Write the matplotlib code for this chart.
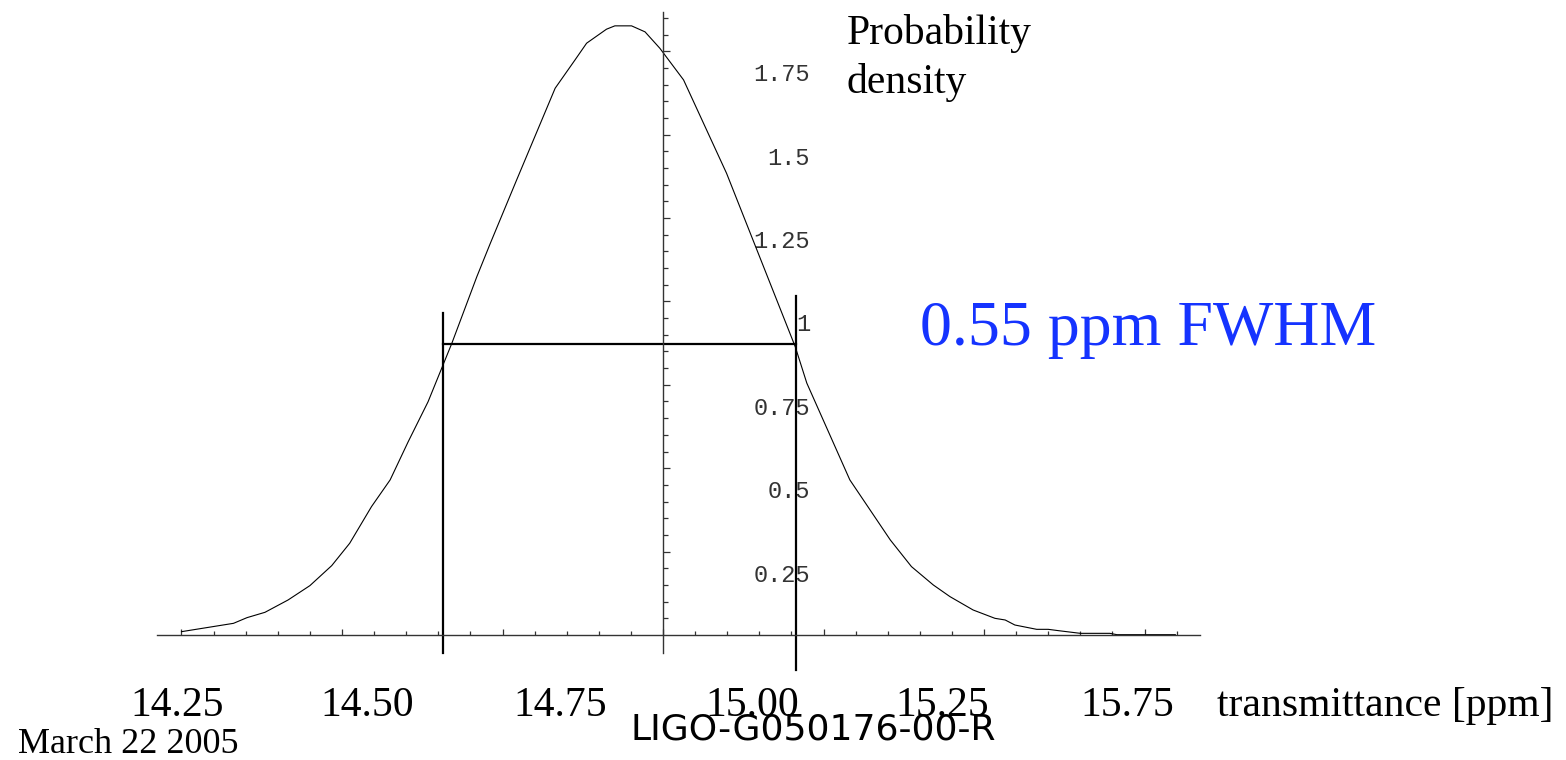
import numpy as np
import matplotlib
matplotlib.use("Agg")
import matplotlib.pyplot as plt
import matplotlib.transforms as mtransforms

# probability density curve
trans = [14.250, 14.331, 14.352, 14.380, 14.416, 14.450, 14.484, 14.512, 14.546, 14.575,
         14.603, 14.634, 14.671, 14.710, 14.731, 14.772, 14.832, 14.863, 14.881, 14.912,
         14.925, 14.951, 14.972, 14.995, 15.032, 15.099, 15.206, 15.224, 15.291, 15.354,
         15.387, 15.421, 15.447, 15.483, 15.517, 15.533, 15.548, 15.582, 15.600, 15.616,
         15.650, 15.696, 15.707, 15.798]
dens = [0.010, 0.035, 0.052, 0.068, 0.105, 0.148, 0.208, 0.275, 0.385, 0.465,
        0.579, 0.699, 0.874, 1.074, 1.174, 1.364, 1.639, 1.724, 1.774, 1.816,
        1.826, 1.826, 1.808, 1.759, 1.664, 1.384, 0.864, 0.755, 0.465, 0.285,
        0.205, 0.150, 0.115, 0.075, 0.050, 0.045, 0.030, 0.017, 0.017, 0.013,
        0.005, 0.005, 0.001, 0.001]

# FWHM markers
fwhm_lo = 14.657
fwhm_hi = 15.207
half_level = 0.871
lo_bar = (-0.054, 0.966)
hi_bar = (-0.105, 1.016)

# axes
x_origin = 15.0
x_major = [14.25, 14.50, 14.75, 15.00, 15.25, 15.50, 15.75]
y_major = [0.25, 0.5, 0.75, 1.0, 1.25, 1.5, 1.75]
y_labels = ["0.25", "0.5", "0.75", "1", "1.25", "1.5", "1.75"]

# labels typed on the slide below the axis
x_text = ["14.25", "14.50", "14.75", "15.00", "15.25", "15.75"]
x_text_px = [177, 367, 560, 752, 942, 1127]

W, H = 1566, 760
fig = plt.figure(figsize=(W / 100, H / 100), dpi=100)
ax = fig.add_axes([0, 0, 1, 1])
ax.set_xlim(13.9673, 16.4065)
ax.set_ylim(-0.3747, 1.9035)

ax.plot(trans, dens, color="black", lw=0.8)

ax.plot([fwhm_lo, fwhm_lo], lo_bar, color="black", lw=1.6)
ax.plot([fwhm_hi, fwhm_hi], hi_bar, color="black", lw=1.6)
ax.plot([fwhm_lo, fwhm_hi], [half_level, half_level], color="black", lw=1.6)

for s in ["top", "right"]:
    ax.spines[s].set_visible(False)
ax.spines["bottom"].set_position(("data", 0))
ax.spines["bottom"].set_bounds(14.212, 15.836)
ax.spines["left"].set_position(("data", x_origin))
ax.spines["left"].set_bounds(-0.054, 1.869)
for s in ["bottom", "left"]:
    ax.spines[s].set_color("#333333")
    ax.spines[s].set_linewidth(1.0)
ax.patch.set_visible(False)

ax.xaxis.set_ticks_position("bottom")
ax.yaxis.set_ticks_position("left")
ax.set_xticks(x_major)
ax.set_xticks(np.arange(14.25, 15.81, 0.05), minor=True)
ax.set_xticklabels([])
ax.set_yticks(y_major)
ax.set_yticks(np.arange(0.05, 1.86, 0.05), minor=True)
ax.set_yticklabels(y_labels, family="Liberation Mono", fontsize=17, color="#333333")

ax.tick_params(axis="x", which="major", direction="in", length=4.3, width=0.9, color="#333333")
ax.tick_params(axis="x", which="minor", direction="in", length=2.6, width=0.9, color="#333333")
ax.tick_params(axis="y", which="major", direction="in", length=5.0, width=0.9, color="#333333",
               pad=-105.8)
ax.tick_params(axis="y", which="minor", direction="in", length=3.4, width=0.9, color="#333333")

# Mathematica put the y labels to the right and a bit low
shift = mtransforms.ScaledTranslation(0, -21 / 100, fig.dpi_scale_trans)
for lab in ax.get_yticklabels():
    lab.set_transform(lab.get_transform() + shift)

serif = "Liberation Serif"
for t, px in zip(x_text, x_text_px):
    fig.text(px / W, 1 - 716 / H, t, family=serif, fontsize=30, ha="center", va="baseline")
fig.text(1217 / W, 1 - 716 / H, "transmittance [ppm]", family=serif, fontsize=30, va="baseline")
fig.text(847 / W, 1 - 44 / H, "Probability", family=serif, fontsize=30, va="baseline")
fig.text(847 / W, 1 - 93 / H, "density", family=serif, fontsize=30, va="baseline")
fig.text(920 / W, 1 - 345 / H, "0.55 ppm FWHM", family=serif, fontsize=46, color="#1533ff",
         va="baseline")
fig.text(18 / W, 1 - 753 / H, "March 22 2005", family=serif, fontsize=26, va="baseline")
fig.text(630 / W, 1 - 740 / H, "LIGO-G050176-00-R", family="DejaVu Sans", fontsize=26,
         va="baseline")

fig.savefig("out.png", dpi=100, facecolor="white")
